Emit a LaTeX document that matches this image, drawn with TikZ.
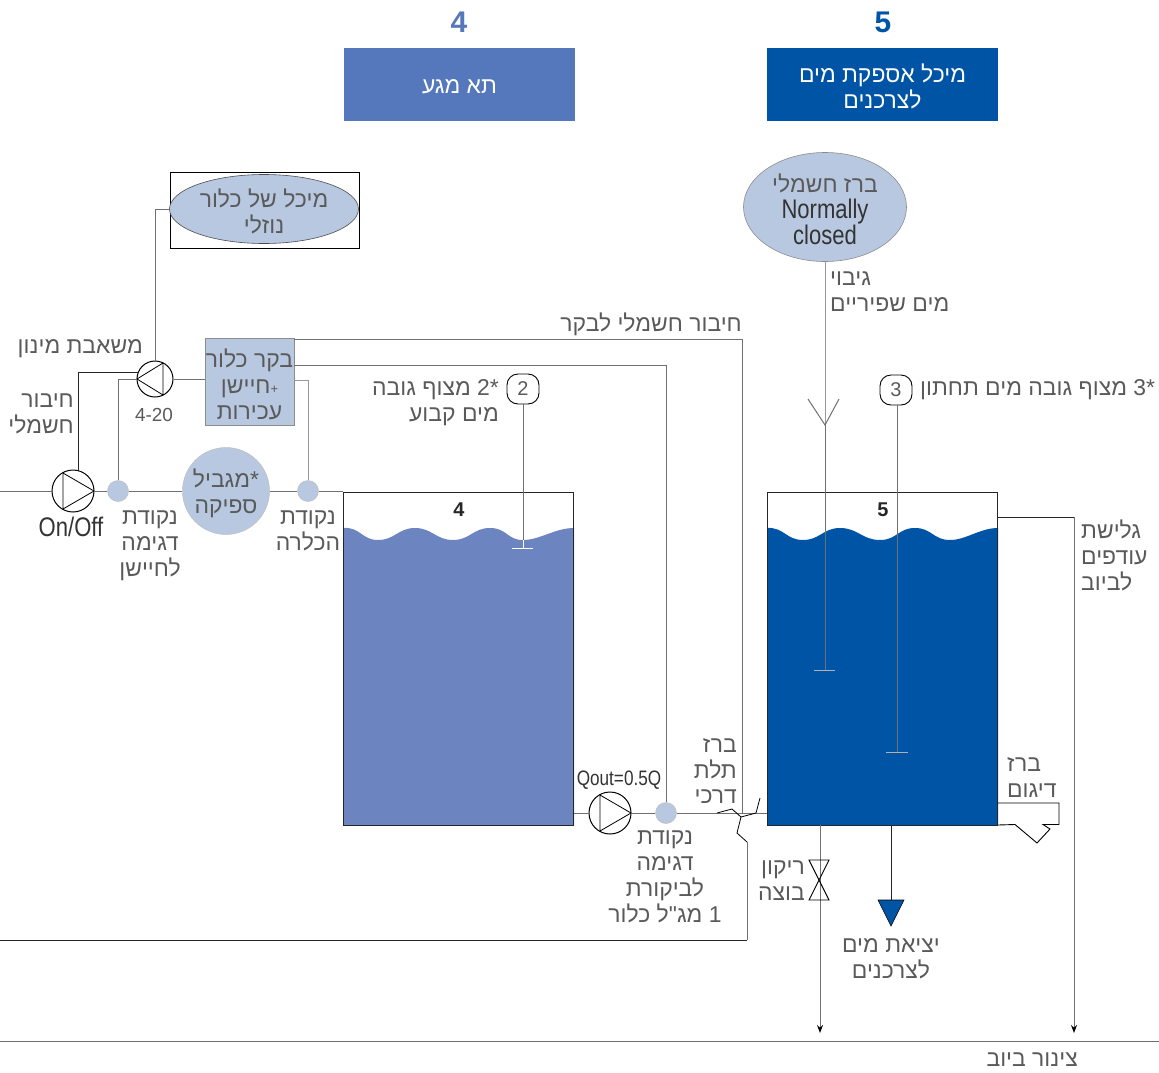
\documentclass[tikz,border=0pt]{standalone}
\usepackage{fontspec}
\usetikzlibrary{arrows.meta,calc,shapes.geometric}
\setmainfont{Liberation Sans}
\newfontfamily\hebfont[Script=Hebrew]{Liberation Sans}
\newfontfamily\narrowfont[FakeStretch=0.82]{Liberation Sans}
\TeXXeTstate=1
\newcommand{\hb}[1]{{\hebfont\beginR #1\endR}}
\definecolor{lightb}{HTML}{B8C8E1}
\definecolor{midb}{HTML}{5577BB}
\definecolor{waterb}{HTML}{6C84C0}
\definecolor{darkb}{HTML}{0054A6}
\definecolor{txt}{HTML}{5A5A5A}
\definecolor{pipe}{HTML}{707070}
\tikzset{
 lab/.style={text=txt,font=\fontsize{23}{26}\selectfont,align=center,inner sep=0pt},
 labr/.style={lab,align=right},
 labl/.style={lab,align=left},
 latin/.style={text=black!80,font=\narrowfont\fontsize{27}{26}\selectfont,align=center,inner sep=0pt},
 pipeline/.style={draw=pipe,line width=1bp},
 darkline/.style={draw=black!85,line width=1bp},
 paleline/.style={draw=black!40,line width=1bp},
 dot/.style={circle,fill=lightb,draw=black!25,line width=0.5bp,minimum size=21bp,inner sep=0pt},
 pumpc/.style={circle,draw=black,fill=white,line width=1bp,inner sep=0pt},
 header/.style={minimum width=231bp,minimum height=73bp,inner sep=0pt},
 tank/.style={draw=black!85,line width=1bp,minimum width=230bp,minimum height=333bp,inner sep=0pt},
 bigno/.style={font=\bfseries\fontsize{30}{30}\selectfont,inner sep=0pt},
 tankno/.style={font=\bfseries\fontsize{20}{20}\selectfont,text=black!85,inner sep=0pt},
 floatbox/.style={draw=black,rounded corners=11bp,line width=0.9bp,minimum width=32bp,minimum height=30bp,inner sep=0pt,text=txt,font=\fontsize{20}{20}\selectfont},
 glyph/.style={draw=black,line width=0.8bp,line join=miter},
 tipa/.style={-{Stealth[length=8bp,width=6bp,color=black]}},
}
\begin{document}
\begin{tikzpicture}[x=1bp,y=-1bp]
\useasboundingbox (0,0) rectangle (1159,1073);

% headers
\node[bigno,text=midb] (n4) at (459,22) {4};
\node[bigno,text=darkb] (n5) at (883,22) {5};
\node[header,fill=midb] (h4) at (459.5,84.5) {};
\node[header,fill=darkb] (h5) at (882.5,84.5) {};
\node[lab,text=white] (h4t) at (459.5,87) {\hb{תא מגע}};
\node[lab,text=white] (h5t) at (882.5,86.5) {\hb{מיכל אספקת מים}\\\hb{לצרכנים}};

% water
\fill[waterb] (344,825) -- (344,528) .. controls (360,527) and (362,540) .. (378,540) .. controls (395,540) and (398,528) .. (415,528) .. controls (432,528) and (436,540) .. (453,540) .. controls (470,540) and (473,528) .. (490,528) .. controls (507,528) and (507,540) .. (523,540) .. controls (540,540) and (555,528) .. (574,528) -- (574,825) -- cycle;
\fill[darkb] (767,825) -- (767,528) .. controls (784,527) and (786,540) .. (803,540) .. controls (820,540) and (823,528) .. (840,528) .. controls (858,528) and (862,540) .. (880,540) .. controls (897,540) and (898,528) .. (915,528) .. controls (932,528) and (933,540) .. (950,540) .. controls (966,540) and (980,528) .. (998,528) -- (998,825) -- cycle;

% tanks
\node[tank] (tank4) at (458.5,658.5) {};
\node[tank,minimum width=230bp] (tank5) at (882,658.5) {};
\node[tankno] (t4) at (459,510) {4};
\node[tankno] (t5) at (883,510) {5};

% chlorine tank
\node[draw=black,line width=0.8bp,minimum width=189bp,minimum height=76bp,inner sep=0pt] (cltank) at (264.5,210) {};
\node[ellipse,draw=black!70,fill=lightb,line width=0.6bp,minimum width=189bp,minimum height=69bp,inner sep=0pt] (clell) at (264,209) {};
\node[lab] (cltext) at (264,211) {\hb{מיכל של כלור}\\\hb{נוזלי}};

% electric valve
\node[ellipse,draw=black!45,fill=lightb,line width=0.6bp,minimum width=163bp,minimum height=109bp,inner sep=0pt] (evalve) at (825,207) {};
\node[lab] (evtext) at (825,209) {\hb{ברז חשמלי}\\{\color{black!80}\narrowfont\fontsize{27}{26}\selectfont Normally}\\{\color{black!80}\narrowfont\fontsize{27}{26}\selectfont closed}};

% controller
\node[fill=lightb,draw=black!45,line width=0.6bp,minimum width=89bp,minimum height=87bp,inner sep=0pt] (ctrl) at (249.5,381.5) {};
\node[lab] (ctrltext) at (249.5,384.5) {\hb{בקר כלור}\\\hb{{\fontsize{13}{13}\selectfont +}חיישן}\\\hb{עכירות}};

% main line elements
\node[pumpc,minimum size=42bp] (p1) at (73,491) {};
\node[dot] (d1) at (118,491) {};
\node[circle,fill=lightb,draw=black!25,line width=0.5bp,minimum size=87bp,inner sep=0pt] (lim) at (226,491) {};
\node[lab] (limtext) at (226,493) {\hb{*מגביל}\\\hb{ספיקה}};
\node[dot] (d2) at (308,491) {};
\node[pumpc,minimum size=36bp] (p2) at (155,379) {};
\node[pumpc,minimum size=42bp] (p3) at (610,813) {};
\node[dot] (d3) at (666,813) {};

\coordinate (left) at (0,491);
\coordinate (leftb) at (0,940);
\draw[pipeline] (left) -- (p1.west);
\draw[pipeline] (p1.east) -- (d1.west);
\draw[pipeline] (d1.east) -- (lim.west);
\draw[pipeline] (lim.east) -- (d2.west);
\draw[pipeline] (d2.east) -- (d2 -| tank4.west);
\draw[pipeline] (p3.west -| tank4.east) -- (p3.west);
\draw[pipeline] (p3.east) -- (d3.west);

% pump glyphs
\draw[glyph] (63,473) -- (94,491) -- (63,509) -- cycle;
\draw[glyph] (137,379) -- (163,363) -- (163,395) -- cycle;
\draw[glyph] (600,795) -- (631,813) -- (600,831) -- cycle;

% pump connections
\draw[pipeline] (p2.north) -- (p2.north |- clell.west) -- (clell.west);
\coordinate (pelbow) at (78,372);
\draw[darkline] (78,471) -- (pelbow) -- (138,372);
\coordinate (selbow) at (118,379);
\draw[pipeline] (d1.north) -- (selbow) -- (p2.west);
\draw[pipeline] (p2.east) -- (p2.east -| ctrl.west);

% controller lines
\coordinate (e1) at (742,339);
\coordinate (e2) at (666,365);
\coordinate (c1) at (294,339);
\coordinate (c2) at (294,365);
\coordinate (c3) at (294,380);
\coordinate (e3) at (308,380);
\draw[pipeline] (c1) -- (e1) -- (742,813);
\draw[pipeline] (c2) -- (e2) -- (d3.north);
\draw[paleline] (c3) -- (e3) -- (d2.north);

% right pipe + three way valve
\coordinate (vA) at (717,813);
\draw[pipeline] (d3.east) -- (767,813);
\draw[draw=black,line width=0.8bp] (vA) -- (732,809) -- (741,817) -- (756,813) -- (760,798);
\draw[draw=black,line width=0.8bp] (741,817) -- (737,833) -- (747,842);
\draw[pipeline] (747,842) -- (747,940);
\draw[darkline] (747,940) -- (leftb);

% level sensors
\node[floatbox] (f2) at (523,389) {2};
\node[floatbox] (f3) at (896,390) {3};
\coordinate (f2end) at (523,548);
\coordinate (f3end) at (897,752);
\coordinate (valveend) at (825,670);
\draw[pipeline] (f2.south) -- (f2end);
\draw[draw=white,line width=1bp] (512,548) -- (533,548);
\draw[draw=white,line width=0.9bp] (523,540) -- (523,548);
\draw[pipeline] (f3.south -| f3end) -- (f3end);
\draw[draw=white!70!black,line width=1bp] (886,752) -- (908,752);
\draw[paleline] (evalve.south) -- (825,425);
\draw[pipeline] (825,425) -- (valveend);
\draw[draw=white!70!black,line width=1bp] (814,670) -- (835,670);
\draw[draw=pipe,line width=1bp] (808,399) -- (825,425) -- (839,399);

% outlets
\coordinate (dr1) at (820,1033);
\coordinate (of1) at (1074,517);
\coordinate (of2) at (1074,1033);
\coordinate (outa) at (891,825);
\draw[darkline] (tank5.east |- of1) -- (of1);
\draw[pipeline,tipa] (of1) -- (of2);
\draw[pipeline,tipa] (820,825) -- (dr1);
\draw[darkline] (outa) -- (891,901);
\draw[draw=black,fill=darkb,line width=0.6bp] (878,900) -- (904,900) -- (891,926) -- cycle;
\draw[draw=black,line width=0.9bp] (809,860) -- (829,860) -- (809,900) -- (829,900) -- cycle;
\draw[draw=black,line width=0.9bp] (998,825) -- (1015,824.5) -- (1037,843) -- (1050,829) -- (1043,824.5) -- (1059,824.5) -- (1059,803) -- (998,803);

% sewer
\coordinate (sa) at (0,1041);
\coordinate (sb) at (1159,1041);
\draw[pipeline] (sa) -- (sb);

% labels
\node[lab,anchor=east] (l1) at (742,324) {\hb{חיבור חשמלי לבקר}};
\node[labl,anchor=north west] (l2) at (830,272) {\hb{גיבוי}\\\hb{מים שפיריים}};
\node[lab,anchor=east] (l3) at (143,349) {\hb{משאבת מינון}};
\node[labr,anchor=north east] (l4) at (74,394) {\hb{חיבור}\\\hb{חשמלי}};
\node[latin,text=txt,font=\fontsize{19}{20}\selectfont] (l5) at (154,415) {4-20};
\node[latin] (l6) at (71,527) {On/Off};
\node[lab,anchor=north] (l7) at (150,511) {\hb{נקודת}\\\hb{דגימה}\\\hb{לחיישן}};
\node[lab,anchor=north] (l8) at (308,511) {\hb{נקודת}\\\hb{הכלרה}};
\node[labr,anchor=north east] (l9) at (499,379) {\hb{*2 מצוף גובה}\\\hb{מים קבוע}};
\node[lab,anchor=west] (l10) at (920,390) {\hb{*3 מצוף גובה מים תחתון}};
\node[labl,anchor=north west] (l11) at (1081,520) {\hb{גלישת}\\\hb{עודפים}\\\hb{לביוב}};
\node[labl,anchor=north west] (l12) at (1007,757) {\hb{ברז}\\\hb{דיגום}};
\node[labr,anchor=north east] (l13) at (805,861) {\hb{ריקון}\\\hb{בוצה}};
\node[lab,anchor=north] (l14) at (891,938) {\hb{יציאת מים}\\\hb{לצרכנים}};
\node[labr,anchor=north east] (l15) at (737,738) {\hb{ברז}\\\hb{תלת}\\\hb{דרכי}};
\node[lab,anchor=north] (l16) at (665,831) {\hb{נקודת}\\\hb{דגימה}\\\hb{לביקורת}\\\hb{1 מג"ל כלור}};
\node[latin,font=\narrowfont\fontsize{21}{26}\selectfont] (l17) at (619,780) {Qout=0.5Q};
\node[lab,anchor=east] (l18) at (1078,1060) {\hb{צינור ביוב}};
\end{tikzpicture}
\end{document}
